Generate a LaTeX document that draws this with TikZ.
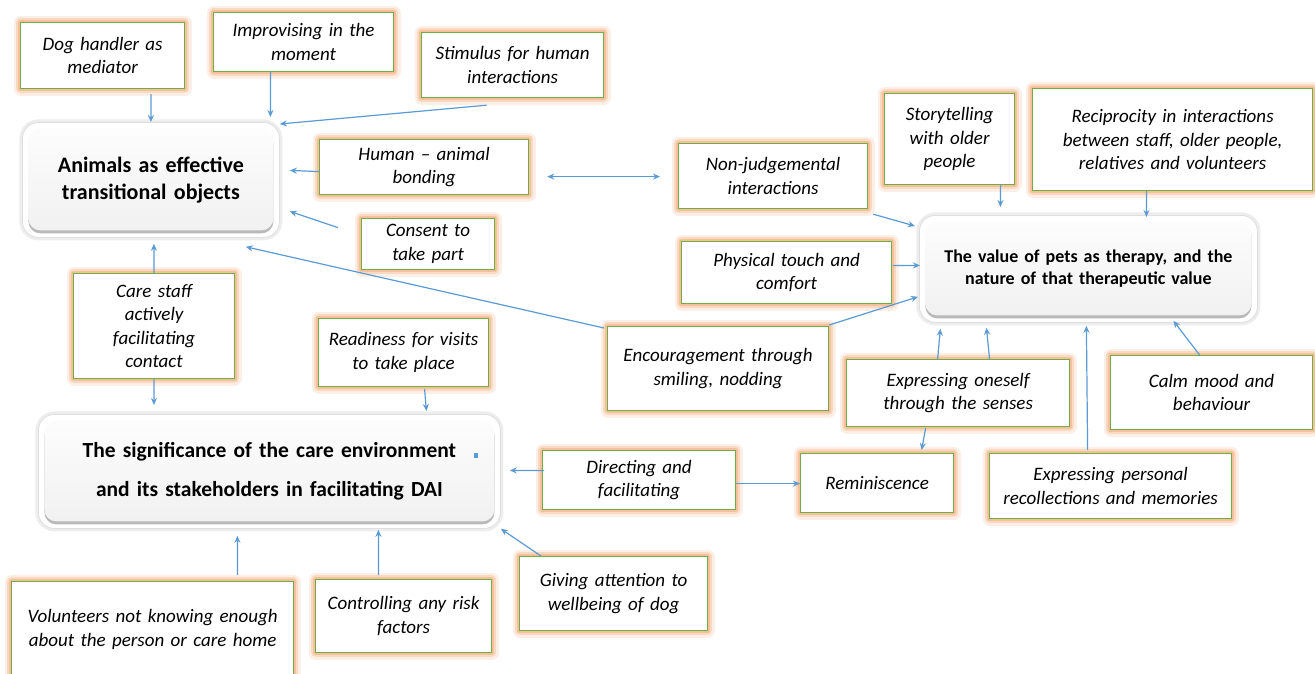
\documentclass[tikz,border=0pt]{standalone}
\usepackage{fontspec}
\setmainfont{Carlito}
\usetikzlibrary{arrows.meta,calc}
\definecolor{boxgreen}{HTML}{70AD47}
\definecolor{glowc}{HTML}{F4A874}
\definecolor{arrc}{HTML}{5B9BD5}
\begin{document}
\begin{tikzpicture}[x=1pt,y=-1pt,
  gbox/.style={anchor=north west, draw=boxgreen, line width=1.2pt, fill=white, inner sep=0pt, align=center,
    font=\fontsize{19}{23.5}\selectfont\itshape,
    preaction={draw=glowc, draw opacity=0.18, line width=14pt, line join=round},
    preaction={draw=glowc, draw opacity=0.3, line width=9pt, line join=round},
    preaction={draw=glowc, draw opacity=0.5, line width=5pt, line join=round}},
  mbox/.style={anchor=north west, draw=gray!25, line width=0.8pt, fill=white, rounded corners=16pt, inner sep=0pt, align=center,
    preaction={draw=black, draw opacity=0.07, line width=6pt},
    path picture={
      \fill[gray!55, rounded corners=12pt] ($(path picture bounding box.north west)+(6,9)$) rectangle ($(path picture bounding box.south east)+(-6,-4)$);
      \shade[top color=gray!2, bottom color=gray!11, rounded corners=12pt] ($(path picture bounding box.north west)+(6,6)$) rectangle ($(path picture bounding box.south east)+(-6,-7)$);
    }},
  arr/.style={draw=arrc, line width=1.2pt, -{Stealth[length=7pt,width=6pt]}},
  darr/.style={draw=arrc, line width=1.2pt, {Stealth[length=7pt,width=6pt]}-{Stealth[length=7pt,width=6pt]}}
]
\useasboundingbox (0,0) rectangle (1315,674);
\clip (0,0) rectangle (1315,674);
\fill[white] (0,0) rectangle (1315,674);

% main boxes
\node[mbox, text width=257pt, minimum height=115pt, font=\fontsize{22}{27}\selectfont\bfseries] (animals) at (22,122) {Animals as effective\\transitional objects};
\node[mbox, text width=338pt, minimum height=107pt, font=\fontsize{18}{22}\selectfont\bfseries] (value) at (919,215) {The value of pets as therapy, and the\\nature of that therapeutic value};
\node[mbox, text width=462pt, minimum height=114pt, font=\fontsize{21.5}{39}\selectfont\bfseries] (signif) at (38,414) {The significance of the care environment\\and its stakeholders in facilitating DAI};
\fill[arrc] (474,453) rectangle (478,458);

% theme boxes
\node[gbox, text width=164pt, minimum height=66pt] (dog) at (20,22) {Dog handler as\\mediator};
\node[gbox, text width=180pt, minimum height=59pt] (impro) at (213,12) {Improvising in the\\moment};
\node[gbox, text width=182pt, minimum height=65pt] (stim) at (421,32) {Stimulus for human\\interactions};
\node[gbox, text width=209pt, minimum height=55pt] (human) at (319,139) {Human – animal\\bonding};
\node[gbox, text width=133pt, minimum height=51pt] (consent) at (361,218) {Consent to\\take part};
\node[gbox, text width=189pt, minimum height=65pt] (nonjudg) at (678,143) {Non-judgemental\\interactions};
\node[gbox, text width=130pt, minimum height=91pt] (story) at (884,93) {Storytelling\\with older\\people};
\node[gbox, text width=280pt, minimum height=102pt] (recip) at (1032,88) {Reciprocity in interactions\\between staff, older people,\\relatives and volunteers};
\node[gbox, text width=210pt, minimum height=62pt] (phys) at (681,241) {Physical touch and\\comfort};
\node[gbox, text width=221pt, minimum height=84pt] (encour) at (607,326) {Encouragement through\\smiling, nodding};
\node[gbox, text width=223pt, minimum height=67pt] (exself) at (846,359) {Expressing oneself\\through the senses};
\node[gbox, text width=202pt, minimum height=74pt] (calm) at (1110,355) {Calm mood and\\behaviour};
\node[gbox, text width=193pt, minimum height=59pt] (direct) at (542,450) {Directing and\\facilitating};
\node[gbox, text width=153pt, minimum height=59pt] (remin) at (800,453) {Reminiscence};
\node[gbox, text width=242pt, minimum height=65pt] (expers) at (989,453) {Expressing personal\\recollections and memories};
\node[gbox, text width=282pt, minimum height=96pt] (volunt) at (11,581) {Volunteers not knowing enough\\about the person or care home};
\node[gbox, text width=176pt, minimum height=73pt] (control) at (315,579) {Controlling any risk\\factors};
\node[gbox, text width=188pt, minimum height=74pt] (giving) at (519,556) {Giving attention to\\wellbeing of dog};
\node[gbox, text width=161pt, minimum height=105pt] (care) at (73,273) {Care staff\\actively\\facilitating\\contact};
\node[gbox, text width=170pt, minimum height=68pt] (ready) at (318,318) {Readiness for visits\\to take place};

% connectors
\draw[arr] ($(dog.south)+(48.5,5)$) -- (animals.north);
\draw[arr] ($(impro.south)+(-33,0)$) -- ($(animals.north)+(119.5,-5)$);
\draw[arr] ($(stim.south)+(-26,7)$) -- ($(animals.north east)+(0,2)$);
\draw[arr] ($(human.west)+(0,4.5)$) -- ($(animals.east)+(10,-9.5)$);
\draw[darr] ($(human.east)+(18,9.5)$) -- ($(nonjudg.west)+(-18,0.5)$);
\draw[arr] ($(consent.west)+(-23,-16.5)$) -- ($(animals.east)+(10,31.5)$);
\draw[arr] ($(encour.north west)+(-3,2)$) -- ($(animals.south east)+(-34,9)$);
\draw[arr] (care.north) -- ($(animals.south)+(3,6)$);
\draw[arr] (care.south) -- ($(signif.north)+(-115.5,-9)$);
\draw[arr] ($(ready.south)+(21,2)$) -- ($(signif.north)+(157,-3)$);
\draw[arr] ($(nonjudg.south east)+(5,5)$) -- ($(value.north west)+(-4,11)$);
\draw[arr] ($(story.south)+(51,0)$) -- ($(value.north)+(-88,-8)$);
\draw[arr] ($(recip.south)+(-26,0)$) -- ($(value.north)+(58,2)$);
\draw[arr] ($(phys.east)+(1,-7)$) -- ($(value.west)+(1,-3.5)$);
\draw[arr] ($(encour.north east)+(0,-1)$) -- ($(value.south west)+(-1,-26)$);
\draw[arr] ($(exself.north)+(-20.5,0)$) -- ($(value.south)+(-148,6)$);
\draw[arr] ($(exself.north)+(31.5,0)$) -- ($(value.south)+(-102,5)$);
\draw[arr] ($(expers.north)+(-23,-3)$) -- ($(value.south)+(-2,3)$);
\draw[arr] ($(calm.north)+(-12,0)$) -- ($(value.south)+(85,-2)$);
\draw[arr] ($(exself.south)+(-32.5,1)$) -- ($(remin.north)+(44.5,-3)$);
\draw[arr] ($(direct.west)+(2,-9.5)$) -- ($(signif.east)+(9,-1)$);
\draw[arr] ($(direct.east)+(0,3.5)$) -- ($(remin.west)+(0,0.5)$);
\draw[arr] ($(volunt.north)+(85,-6)$) -- ($(signif.south)+(-32,7)$);
\draw[arr] ($(control.north)+(-25,-4)$) -- ($(signif.south)+(109,1)$);
\draw[arr] ($(giving.north west)+(22,0)$) -- (signif.south east);
\end{tikzpicture}
\end{document}
